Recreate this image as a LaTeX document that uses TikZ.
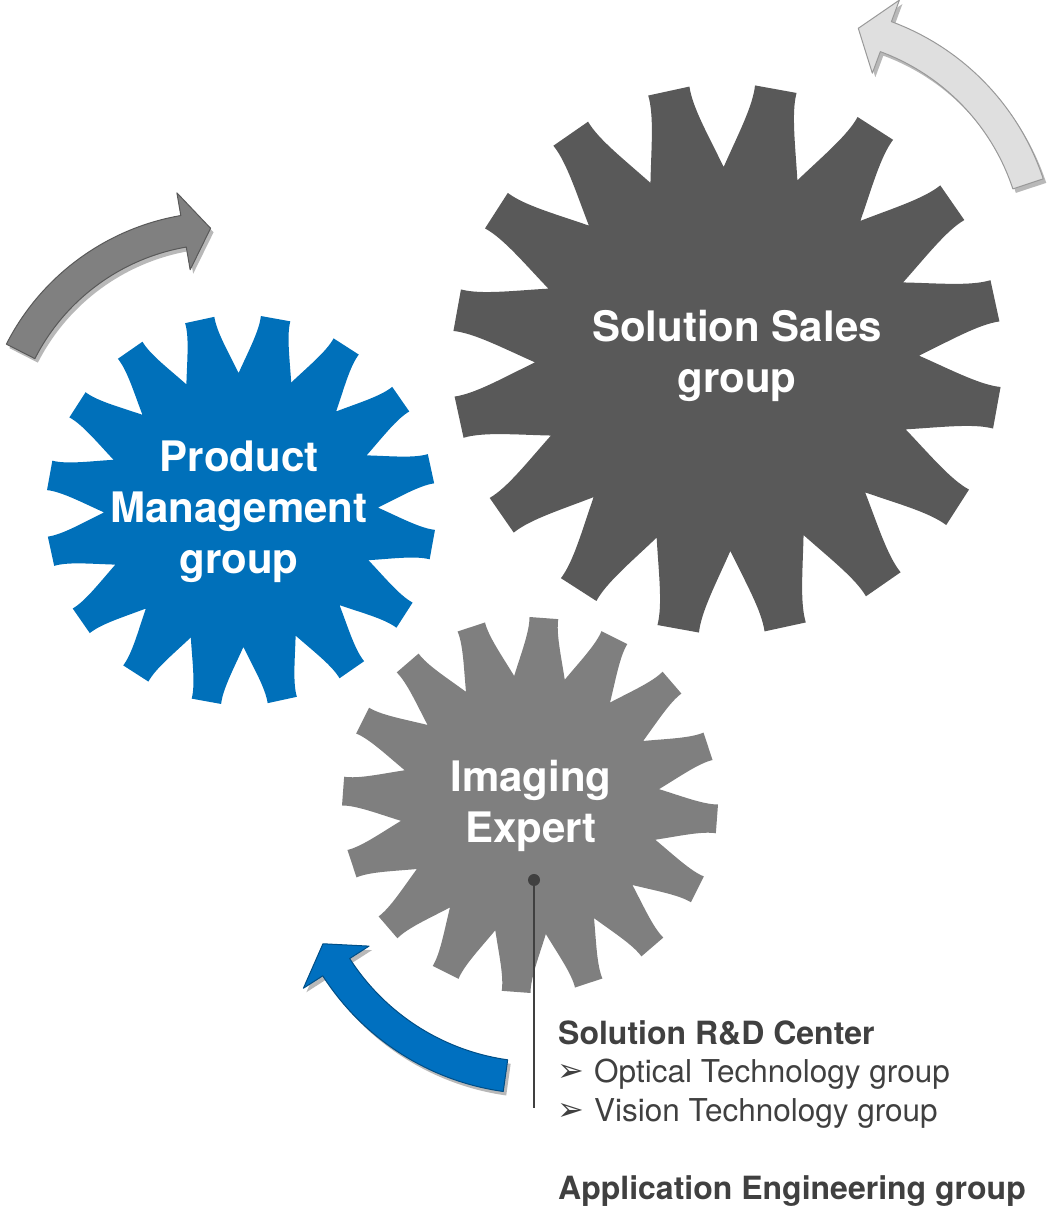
\documentclass[tikz,border=0pt]{standalone}
\usepackage{fontspec}
\setmainfont{TeX Gyre Heros}
\newfontfamily\dejavu{DejaVu Sans}
\usetikzlibrary{shadows}
\definecolor{gblue}{HTML}{0070BA}
\definecolor{gdark}{HTML}{595959}
\definecolor{gmid}{HTML}{7F7F7F}
\definecolor{txtgray}{HTML}{404040}
\definecolor{arrgray}{HTML}{808080}
\definecolor{arrlight}{HTML}{DFDFDF}
\definecolor{arrblue}{HTML}{0070C0}

% gear: cx cy R r rot color
\newcommand\gearshape[6]{%
 \begin{scope}[shift={(#1,#2)}]
 \pgfmathsetmacro\gR{#3}
 \pgfmathsetmacro\gr{#4}
 \pgfmathsetmacro\gd{#3-#4}
 \fill[#6] ({#5+67.5}:\gr)
 \foreach \i [evaluate=\i as \p using #5+78.75+22.5*\i] in {0,...,15}{
   .. controls ({\p-7.4}:{\gr+0.4*\gd}) and ({\p-4.4}:{\gR-0.25*\gd}) .. ({\p-4.4}:\gR)
   -- ({\p+4.4}:\gR)
   .. controls ({\p+4.4}:{\gR-0.25*\gd}) and ({\p+7.4}:{\gr+0.4*\gd}) .. ({\p+11.25}:\gr)
 } -- cycle;
 \end{scope}}

% curved arrow: cx cy R tail base tip style
\newcommand\curvedarrow[7]{%
 \begin{scope}[shift={(#1,#2)}]
 \filldraw[#7] (#4:{#3+16}) arc[start angle=#4, end angle=#5, radius={#3+16}]
   -- (#5:{#3+39}) -- (#6:#3) -- (#5:{#3-39}) -- (#5:{#3-16})
   arc[start angle=#5, end angle=#4, radius={#3-16}] -- cycle;
 \end{scope}}

\begin{document}
\begin{tikzpicture}[x=1pt,y=1pt,
  arrowshadow/.style={drop shadow={shadow xshift=3pt, shadow yshift=-4pt, opacity=0.28, fill=black}},
  arrowA/.style={arrowshadow, fill=arrgray, draw=black!65, line width=1pt, line join=round},
  arrowB/.style={arrowshadow, fill=arrlight, draw=black!40, line width=1pt, line join=round},
  arrowC/.style={arrowshadow, fill=arrblue, draw=arrblue!70!black, line width=1pt, line join=round},
  geartext/.style={text=white, font=\bfseries\fontsize{42}{51}\selectfont, align=center, inner sep=0pt},
  boldlabel/.style={anchor=base west, text=txtgray, font=\bfseries\fontsize{32}{38}\selectfont, inner sep=0pt},
  itemlabel/.style={anchor=base west, text=txtgray, font=\fontsize{31.5}{38}\selectfont, inner sep=0pt},
  bulletmark/.style={anchor=base west, text=txtgray, font=\dejavu\fontsize{32}{36}\selectfont, inner sep=0pt}]
\useasboundingbox (0,0) rectangle (1051,1210);

\curvedarrow{222}{756}{226}{153}{99.8}{92.9}{arrowA}
\curvedarrow{804}{952}{236}{18.3}{69.7}{76.7}{arrowB}
\curvedarrow{539}{373}{241}{262}{212.7}{206.3}{arrowC}

\gearshape{241}{700}{195}{137}{1}{gblue}
\gearshape{727}{851}{275}{192}{1}{gdark}
\gearshape{530}{405}{188}{130}{7}{gmid}

\node[geartext] (pm) at (239,698) {Product\\Management\\group};
\node[geartext] (ss) at (737,854) {Solution Sales\\group};
\node[geartext] (ie) at (531,404) {Imaging\\Expert};

\node[circle, fill=txtgray, inner sep=0pt, minimum size=12pt] (pin) at (534,330) {};
\coordinate (pinend) at (534,102);
\draw[txtgray, line width=2.5pt] (pin.center) -- (pinend);

\node[boldlabel] (rd) at (558,165) {Solution R\&D Center};
\node[bulletmark] (b1) at (557,128) {➢};
\node[itemlabel] (ot) at (594,127) {Optical Technology group};
\node[bulletmark] (b2) at (557,89) {➢};
\node[itemlabel] (vt) at (594,88) {Vision Technology group};
\node[boldlabel] (ae) at (558,10) {Application Engineering group};
\end{tikzpicture}
\end{document}
